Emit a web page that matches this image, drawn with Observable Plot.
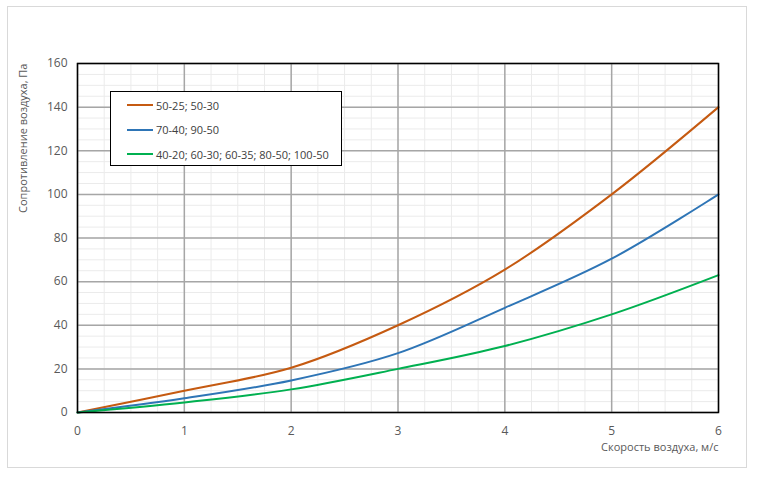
<!DOCTYPE html>
<html>
<head>
<meta charset="utf-8">
<script src="https://cdn.jsdelivr.net/npm/d3@7"></script>
<script src="https://cdn.jsdelivr.net/npm/@observablehq/plot@0.6"></script>
<style>
  html, body { margin: 0; padding: 0; background: #fff; }
  #wrap { position: relative; width: 757px; height: 480px; font-family: "Open Sans", sans-serif; }
  #border { position: absolute; left: 7px; top: 6px; width: 740px; height: 462px; border: 1.5px solid #d9d9d9; box-sizing: border-box; pointer-events: none; }
  #legend { position: absolute; left: 110px; top: 91px; width: 232px; height: 75px; border: 1.3px solid #000; background: #fff; box-sizing: border-box; font-size: 11px; color: #404040; }
  .item { position: absolute; left: 16px; height: 14px; display: flex; align-items: center; }
  .sw { width: 26px; height: 2px; margin-right: 3px; }
</style>
</head>
<body>
<div id="wrap"><div id="border"></div></div>
<script>
const speeds = [0, 1, 2, 3, 4, 5, 6];
const seriesNames = ["50-25; 50-30", "70-40; 90-50", "40-20; 60-30; 60-35; 80-50; 100-50"];
const seriesColors = ["#c55a11", "#2e75b6", "#00b050"];
const orangeValues = [0, 10, 20.5, 40, 65.5, 100, 140];
const blueValues = [0, 6.5, 14.7, 27.2, 48, 70.5, 100];
const greenValues = [0, 4.6, 10.6, 20, 30.5, 45, 63];
const xTicks = [0, 1, 2, 3, 4, 5, 6];
const yTicks = [0, 20, 40, 60, 80, 100, 120, 140, 160];
const xMinor = d3.range(0, 6.001, 0.25);
const yMinor = d3.range(0, 160.001, 5);
const xLabel = "Скорость воздуха, м/с";
const yLabel = "Сопротивление воздуха, Па";

const allValues = [orangeValues, blueValues, greenValues];
const data = [];
allValues.forEach((vals, i) => vals.forEach((v, j) => data.push({x: speeds[j], y: v, s: seriesNames[i]})));

const chart = Plot.plot({
  width: 757, height: 480,
  marginLeft: 77, marginRight: 39, marginTop: 63, marginBottom: 68,
  style: {fontFamily: "Open Sans, sans-serif", fontSize: "12px", color: "#595959", background: "transparent"},
  x: {domain: [0, 6], label: null},
  y: {domain: [0, 160], label: null},
  color: {domain: seriesNames, range: seriesColors},
  marks: [
    Plot.ruleX(xMinor, {stroke: "#ebebeb", strokeWidth: 1}),
    Plot.ruleY(yMinor, {stroke: "#ebebeb", strokeWidth: 1}),
    Plot.ruleX(xTicks, {stroke: "#a6a6a6", strokeWidth: 1.5}),
    Plot.ruleY(yTicks, {stroke: "#a6a6a6", strokeWidth: 1.5}),
    Plot.line(data, {x: "x", y: "y", z: "s", stroke: "s", strokeWidth: 2, curve: "catmull-rom"}),
    Plot.frame({stroke: "#000", strokeWidth: 1.5}),
    Plot.axisX({ticks: xTicks, tickFormat: d3.format("d"), tickSize: 0, tickPadding: 14, label: null, fill: "#595959"}),
    Plot.axisY({ticks: yTicks, tickFormat: d3.format("d"), tickSize: 0, tickPadding: 10, label: null, fill: "#595959"}),
    Plot.text([xLabel], {frameAnchor: "bottom-right", dy: 38, text: d => d, textAnchor: "end", fill: "#595959", fontSize: 11}),
    Plot.text([yLabel], {frameAnchor: "top-left", dx: -58, rotate: -90, text: d => d, textAnchor: "end", fill: "#595959", fontSize: 11})
  ]
});
document.getElementById("wrap").prepend(chart);

const legend = document.createElement("div");
legend.id = "legend";
seriesNames.forEach((name, i) => {
  const it = document.createElement("div");
  it.className = "item";
  it.style.top = (6 + i * 24.5) + "px";
  const sw = document.createElement("span");
  sw.className = "sw";
  sw.style.background = seriesColors[i];
  const tx = document.createElement("span");
  tx.textContent = name;
  it.appendChild(sw); it.appendChild(tx);
  legend.appendChild(it);
});
document.getElementById("wrap").appendChild(legend);
</script>
</body>
</html>
